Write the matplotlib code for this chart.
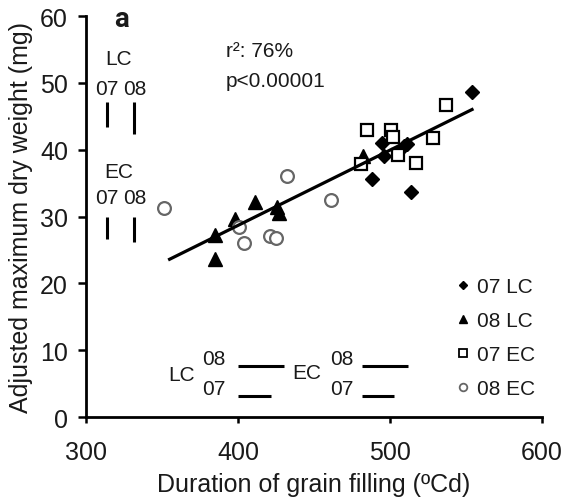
import matplotlib
matplotlib.use("Agg")
import matplotlib.pyplot as plt
from matplotlib.lines import Line2D

plt.rcParams['font.family'] = ['Liberation Sans', 'DejaVu Sans']

# 07 LC (filled diamonds)
lc07_x = [554, 488, 495, 496, 509, 511, 514]
lc07_y = [48.6, 35.6, 41.0, 39.0, 40.5, 40.8, 33.7]
# 08 LC (filled triangles)
lc08_x = [482, 411, 398, 426, 427, 385, 385]
lc08_y = [39.1, 32.1, 29.7, 31.4, 30.6, 27.2, 23.7]
# 07 EC (open squares)
ec07_x = [485, 481, 501, 502, 505, 517, 528, 537]
ec07_y = [43.0, 37.9, 43.0, 41.9, 39.2, 38.0, 41.7, 46.7]
# 08 EC (open circles)
ec08_x = [351, 432, 461, 401, 404, 421, 425]
ec08_y = [31.3, 36.0, 32.4, 28.5, 26.1, 27.1, 26.8]

# regression line
fit_intercept = -16.37
fit_slope = 0.1126
fit_range = [355, 554]

# LSD bars (vertical: y ranges at x positions; horizontal: x ranges at y positions)
vbar_labels = ['07', '08']
vbar_x = [313.6, 331.8]
lc_vbar_y = [(43.4, 47.2), (42.4, 47.2)]
ec_vbar_y = [(26.6, 29.9), (26.2, 29.9)]
hbar_lc_x = [(400.3, 422.0), (400.3, 430.6)]   # 07, 08
hbar_ec_x = [(481.6, 502.6), (481.6, 511.6)]   # 07, 08
hbar_y = [3.2, 7.7]                            # 07, 08

legend_labels = ['07 LC', '08 LC', '07 EC', '08 EC']

fig = plt.figure(figsize=(5.65, 5.02), dpi=100)
ax = fig.add_axes([0.1522, 0.1673, 0.807, 0.7988])

ax.plot(lc07_x, lc07_y, 'D', color='black', ms=6.8, ls='none')
ax.plot(lc08_x, lc08_y, '^', color='black', ms=9.5, ls='none')
ax.plot(ec07_x, ec07_y, 's', mfc='white', mec='black', mew=1.6, ms=8.6, ls='none')
ax.plot(ec08_x, ec08_y, 'o', mfc='white', mec='#666666', mew=1.6, ms=9.2, ls='none')

fx = fit_range
fy = [fit_intercept + fit_slope * v for v in fx]
ax.plot(fx, fy, color='black', lw=2.3)

bar_kw = dict(color='black', lw=2.2, solid_capstyle='butt')
for xv, (y0, y1) in zip(vbar_x, lc_vbar_y):
    ax.plot([xv, xv], [y0, y1], **bar_kw)
for xv, (y0, y1) in zip(vbar_x, ec_vbar_y):
    ax.plot([xv, xv], [y0, y1], **bar_kw)
for (x0, x1), yv in zip(hbar_lc_x, hbar_y):
    ax.plot([x0, x1], [yv, yv], **bar_kw)
for (x0, x1), yv in zip(hbar_ec_x, hbar_y):
    ax.plot([x0, x1], [yv, yv], **bar_kw)

fs_in = 15
tc = '#1a1a1a'
ax.text(321.7, 53.7, 'LC', ha='center', va='center', fontsize=fs_in, color=tc)
ax.text(321.7, 36.8, 'EC', ha='center', va='center', fontsize=fs_in, color=tc)
for xv, lab in zip(vbar_x, vbar_labels):
    ax.text(xv, 49.1, lab, ha='center', va='center', fontsize=fs_in, color=tc)
    ax.text(xv, 32.9, lab, ha='center', va='center', fontsize=fs_in, color=tc)
ax.text(362.9, 6.4, 'LC', ha='center', va='center', fontsize=fs_in, color=tc)
ax.text(445.1, 6.6, 'EC', ha='center', va='center', fontsize=fs_in, color=tc)
for yv, lab in zip([4.2, 8.7], ['07', '08']):
    ax.text(384.2, yv, lab, ha='center', va='center', fontsize=fs_in, color=tc)
    ax.text(468.2, yv, lab, ha='center', va='center', fontsize=fs_in, color=tc)

ax.text(392.0, 54.8, 'r²: 76%', ha='left', va='center', fontsize=fs_in, color=tc)
ax.text(392.0, 50.4, 'p<0.00001', ha='left', va='center', fontsize=fs_in, color=tc)
ax.text(323.5, 59.6, 'a', ha='center', va='center', fontsize=20, fontweight='bold',
        color=tc, family=['Roboto', 'DejaVu Sans'])

handles = [
    Line2D([], [], marker='D', color='black', ls='none', ms=4.5),
    Line2D([], [], marker='^', color='black', ls='none', ms=6),
    Line2D([], [], marker='s', mfc='white', mec='black', mew=1.3, ls='none', ms=5.5),
    Line2D([], [], marker='o', mfc='white', mec='#666666', mew=1.3, ls='none', ms=5.5),
]
leg = ax.legend(handles, legend_labels, loc='center left', bbox_to_anchor=(0.785, 0.198),
                frameon=False, fontsize=fs_in, handlelength=0.8, handletextpad=0.3,
                labelspacing=0.72, borderpad=0)
for t in leg.get_texts():
    t.set_color(tc)

ax.set_xlim(300, 600)
ax.set_ylim(0, 60)
ax.set_xticks([300, 400, 500, 600])
ax.set_yticks(range(0, 61, 10))
for s in ['top', 'right']:
    ax.spines[s].set_visible(False)
for s in ['left', 'bottom']:
    ax.spines[s].set_linewidth(2)
ax.tick_params(axis='y', direction='out', length=6, width=1.8, labelsize=18, pad=7,
               labelcolor=tc)
ax.tick_params(axis='x', direction='out', length=4.5, width=1.8, labelsize=18, pad=12,
               labelcolor=tc)
ax.set_xlabel('Duration of grain filling (ºCd)', fontsize=18, labelpad=6, color=tc)
ax.set_ylabel('Adjusted maximum dry weight (mg)', fontsize=18, labelpad=5, color=tc)

fig.savefig('out.png', dpi=100)
